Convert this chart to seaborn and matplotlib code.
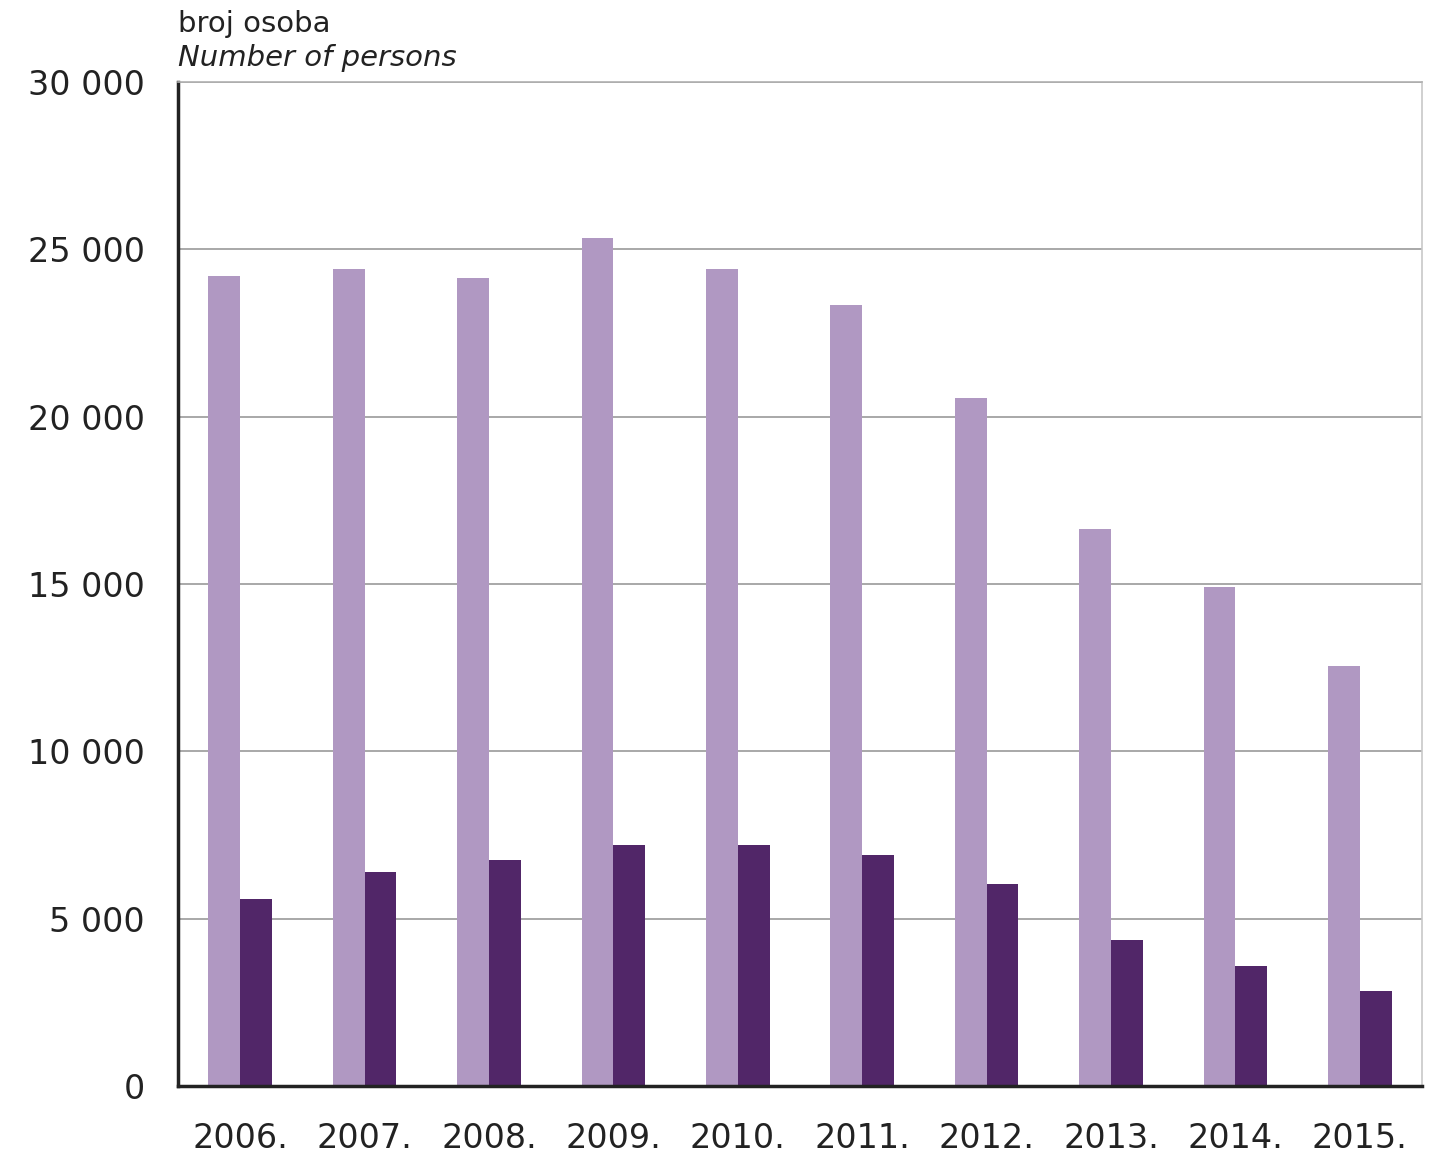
import seaborn as sns
import matplotlib.pyplot as plt
import pandas as pd

years = ["2006.", "2007.", "2008.", "2009.", "2010.", "2011.", "2012.", "2013.", "2014.", "2015."]
light_vals = [24200, 24400, 24150, 25350, 24400, 23350, 20550, 16650, 14900, 12550]
dark_vals = [5600, 6400, 6750, 7200, 7200, 6900, 6050, 4350, 3600, 2850]
yticks = [0, 5000, 10000, 15000, 20000, 25000, 30000]
ytick_labels = ["0", "5 000", "10 000", "15 000", "20 000", "25 000", "30 000"]

df = pd.DataFrame({"year": years * 2,
                   "value": light_vals + dark_vals,
                   "series": ["a"] * len(years) + ["b"] * len(years)})

sns.set_style("white")
plt.rcParams["font.family"] = ["DejaVu Sans"]

fig = plt.figure(figsize=(14.43, 11.58), dpi=100)
ax = fig.add_axes([178 / 1443, 1 - 1086 / 1158, (1422 - 178) / 1443, (1086 - 82) / 1158])

sns.barplot(data=df, x="year", y="value", hue="series",
            palette={"a": "#b098c2", "b": "#512668"}, saturation=1,
            width=0.51, linewidth=0, legend=False, ax=ax)

ax.set_ylim(0, 30000)
ax.set_xlim(-0.5, len(years) - 0.5)
ax.set_yticks(yticks)
ax.set_yticklabels(ytick_labels)
ax.yaxis.grid(True, color="#9a9a9a", linewidth=1.2)
ax.set_axisbelow(True)
ax.set_xlabel("")
ax.set_ylabel("")

for s in ["left", "bottom"]:
    ax.spines[s].set_color("#222222")
    ax.spines[s].set_linewidth(2.5)
ax.spines["right"].set_color("#c8c8c8")
ax.spines["right"].set_linewidth(1.2)
ax.spines["top"].set_color("#b0b0b0")
ax.spines["top"].set_linewidth(1.2)

ax.tick_params(axis="y", length=0, pad=24, labelsize=24, labelcolor="#222222")
ax.tick_params(axis="x", length=0, pad=26, labelsize=24, labelcolor="#222222")

fig.text(178 / 1443, 1 - 24 / 1158, "broj osoba", fontsize=21, color="#222222",
         va="center", ha="left")
fig.text(178 / 1443, 1 - 58 / 1158, "Number of persons", fontsize=21, style="italic",
         color="#222222", va="center", ha="left")

fig.savefig("out.png", dpi=100, facecolor="white")
